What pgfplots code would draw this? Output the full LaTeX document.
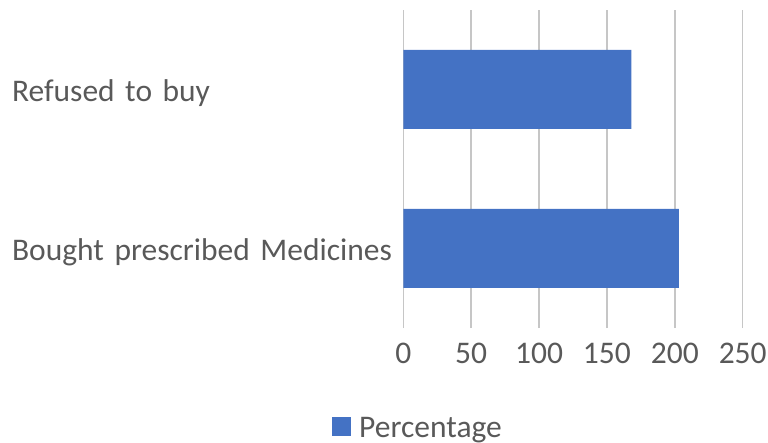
\documentclass[border=0pt]{standalone}
\usepackage{fontspec}
\setmainfont{Carlito}
\usepackage{pgfplots}
\pgfplotsset{compat=1.18}
\definecolor{barblue}{HTML}{4472C4}
\definecolor{txtgray}{HTML}{595959}
\definecolor{gridgray}{HTML}{C6C6C6}
\begin{document}
\begin{tikzpicture}
\useasboundingbox (0,0) rectangle (768bp,443bp);
\begin{axis}[
  at={(403.3bp,115bp)}, anchor=south west,
  scale only axis, width=339.4bp, height=318bp,
  xbar, bar width=79bp,
  xmin=0, xmax=250, ymin=-0.5, ymax=1.5,
  xtick={0,50,100,150,200,250},
  ytick={0,1},
  yticklabels={Bought prescribed Medicines, Refused to buy},
  axis line style={draw=none},
  major tick length=0pt,
  xmajorgrids, grid style={gridgray, line width=1.5bp},
  ymajorgrids=false,
  font=\fontsize{31.5bp}{36bp}\selectfont,
  /pgf/number format/assume math mode=true,
  xticklabel style={text=txtgray, anchor=north, inner sep=0pt, yshift=-15bp},
  yticklabel style={text=txtgray, anchor=east, inner sep=0pt, text width=391bp, align=left, yshift=-4bp},
  legend style={at={(0.0433,-0.314)}, anchor=center, draw=none, fill=none,
    font=\fontsize{31.5bp}{36bp}\selectfont\color{txtgray}, inner sep=0pt,
    /tikz/every odd column/.append style={column sep=6bp}},
  legend image code/.code={\fill[barblue] (0bp,-8bp) rectangle (19bp,11bp);},
  legend cell align=left,
]
\addplot[fill=barblue, draw=none] coordinates {(203,0) (168,1)};
\addlegendentry{Percentage}
\end{axis}
\end{tikzpicture}
\end{document}
